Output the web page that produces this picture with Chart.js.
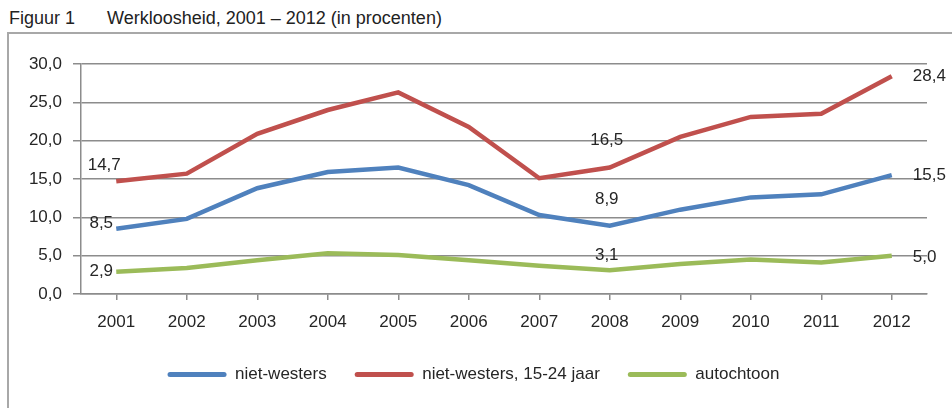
<!DOCTYPE html>
<html>
<head>
<meta charset="utf-8">
<script src="https://cdn.jsdelivr.net/npm/chart.js@4"></script>
<style>
  body { margin: 0; background: #fff; width: 952px; height: 408px; overflow: hidden; position: relative; font-family: "Liberation Sans", Arial, sans-serif; }
  #frame { position: absolute; left: 7px; top: 32px; width: 1000px; height: 500px; border: 2px solid #a8a8a8; }
  #title { position: absolute; left: 9px; top: 8px; font-size: 18px; color: #222; white-space: nowrap; }
  #title span.t { position: absolute; left: 98px; }
  #wrap { position: absolute; left: 0; top: 0; width: 952px; height: 408px; }
</style>
</head>
<body>
<div id="frame"></div>
<div id="title">Figuur 1<span class="t">Werkloosheid, 2001 – 2012 (in procenten)</span></div>
<div id="wrap"><canvas id="chart" width="952" height="408"></canvas></div>
<script>
const years = ["2001", "2002", "2003", "2004", "2005", "2006", "2007", "2008", "2009", "2010", "2011", "2012"];
const nietWesters = [8.5, 9.8, 13.8, 15.9, 16.5, 14.2, 10.3, 8.9, 11.0, 12.6, 13.0, 15.5];
const nietWesters1524 = [14.7, 15.7, 20.9, 24.0, 26.3, 21.8, 15.1, 16.5, 20.5, 23.1, 23.5, 28.4];
const autochtoon = [2.9, 3.4, 4.4, 5.3, 5.1, 4.4, 3.7, 3.1, 3.9, 4.5, 4.1, 5.0];
const seriesNames = ["niet-westers", "niet-westers, 15-24 jaar", "autochtoon"];
const labelIndexes = [0, 7, 11];

const fmt = v => v.toFixed(1).replace(".", ",");

// label offsets per series (blue, red, green) for first, middle and last labelled point
const labelOffsets = [
  [[-15, -6], [-3, -26], [21, 0]],
  [[-12, -16], [-3, -27], [21, 0]],
  [[-15, 0], [-3, -15], [21, 2]]
];

const pointLabels = {
  id: "pointLabels",
  afterDatasetsDraw(chart) {
    const ctx = chart.ctx;
    ctx.save();
    ctx.font = "17px 'Liberation Sans', Arial, sans-serif";
    ctx.fillStyle = "#262626";
    ctx.textBaseline = "middle";
    chart.data.datasets.forEach((ds, di) => {
      const meta = chart.getDatasetMeta(di);
      labelIndexes.forEach((idx, k) => {
        const pt = meta.data[idx];
        const off = labelOffsets[di][k];
        ctx.textAlign = k === 2 ? "left" : "center";
        ctx.fillText(fmt(ds.data[idx]), pt.x + off[0], pt.y + off[1]);
      });
    });
    ctx.restore();
  }
};

// Excel legend is not exactly centred on the canvas
const legendShift = {
  id: "legendShift",
  afterLayout(chart) {
    chart.legend.left += 5;
    chart.legend.right += 5;
  }
};

const colors = ["#4F81BD", "#C0504D", "#9BBB59"];

new Chart(document.getElementById("chart"), {
  type: "line",
  data: {
    labels: years,
    datasets: [nietWesters, nietWesters1524, autochtoon].map((d, i) => ({
      label: seriesNames[i],
      data: d,
      borderColor: colors[i],
      backgroundColor: colors[i],
      borderWidth: 4.5,
      pointRadius: 0,
      tension: 0,
      fill: false
    }))
  },
  options: {
    responsive: false,
    animation: false,
    devicePixelRatio: 1,
    layout: { padding: { left: 10, right: 25, top: 64, bottom: 15 } },
    scales: {
      x: {
        offset: true,
        grid: { drawOnChartArea: false, drawTicks: true, tickLength: 6, color: "#8c8c8c", lineWidth: 1.5 },
        border: { color: "#8c8c8c", width: 1.5 },
        ticks: { color: "#262626", padding: 12, font: { size: 17, family: "'Liberation Sans', Arial, sans-serif" } },
        afterFit(scale) { scale.height = 44; }
      },
      y: {
        min: 0,
        max: 30,
        grid: { color: "#8c8c8c", lineWidth: 1.5, tickLength: 8 },
        border: { color: "#8c8c8c", width: 1.5 },
        ticks: {
          stepSize: 5,
          color: "#262626",
          padding: 11,
          font: { size: 17, family: "'Liberation Sans', Arial, sans-serif" },
          callback: v => fmt(v)
        },
        afterFit(scale) { scale.width = 71; }
      }
    },
    plugins: {
      legend: {
        position: "bottom",
        labels: {
          boxWidth: 59,
          boxHeight: 5,
          padding: 28,
          color: "#262626",
          font: { size: 17, family: "'Liberation Sans', Arial, sans-serif" },
          generateLabels(chart) {
            const items = Chart.defaults.plugins.legend.labels.generateLabels(chart);
            items.forEach(it => { it.lineWidth = 0; it.fillStyle = it.strokeStyle; it.borderRadius = 2.5; });
            return items;
          }
        }
      },
      tooltip: { enabled: false }
    }
  },
  plugins: [pointLabels, legendShift]
});
</script>
</body>
</html>
